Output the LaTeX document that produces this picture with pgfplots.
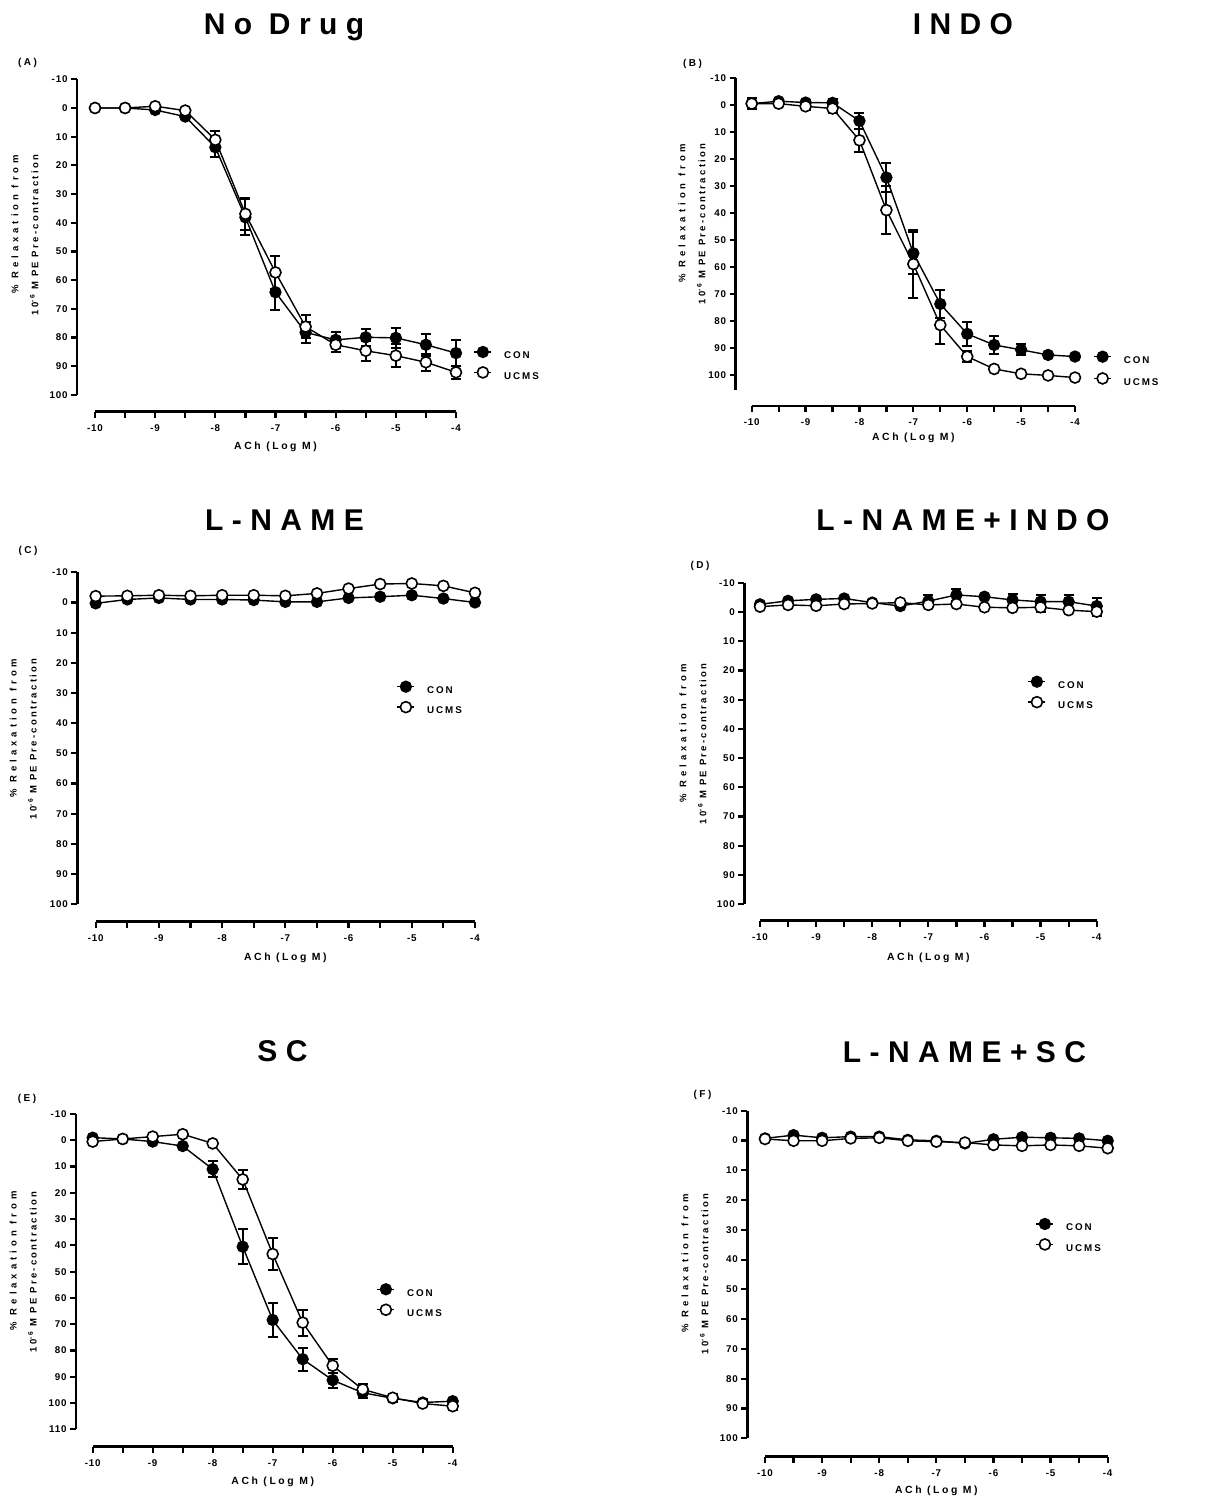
\documentclass[border=0pt]{standalone}
\usepackage{fontspec}
\usepackage{pgfplots}
\pgfplotsset{compat=1.18}
\setmainfont{Liberation Sans}
\newfontfamily\ttlfont{Liberation Sans}[LetterSpace=28]
\newfontfamily\labfont{Liberation Sans}[LetterSpace=25]
\newfontfamily\ylA{Liberation Sans}[LetterSpace=42]
\newfontfamily\ylB{Liberation Sans}[LetterSpace=24]
\newfontfamily\tkfont{Liberation Sans}[LetterSpace=8]
\newfontfamily\lgfont{Liberation Sans}[LetterSpace=20]

\pgfplotsset{
 panel/.style={
  scale only axis, xmin=-10, xmax=-4, y dir=reverse,
  separate axis lines, axis x line*=bottom, axis y line*=left,
  axis line style={line width=2.5pt, black},
  xtick={-10,-9,...,-4}, minor xtick={-9.5,-8.5,-7.5,-6.5,-5.5,-4.5},
  tick align=outside, major tick length=6pt, minor tick length=6pt,
  tick style={line width=2.2pt, black},
  clip=false,
  /pgf/number format/assume math mode=true,
  ticklabel style={font=\tkfont\bfseries\fontsize{9.8}{11}\selectfont},
  xticklabel style={yshift=-3.2pt},
  xlabel={ACh (Log M)},
  ylabel={{\ylA \% Relaxation from}\\{\ylB 10\textsuperscript{-6} M PE Pre-contraction}},
  every axis x label/.style={anchor=center, font=\labfont\bfseries\fontsize{10.4}{12}\selectfont},
  every axis y label/.style={rotate=90, anchor=center, align=right, font=\bfseries\fontsize{9.5}{20}\selectfont},
  legend style={draw=none, fill=none, inner sep=0pt, row sep=8.2pt, column sep=12pt, anchor=north west,
    nodes={inner sep=0pt, text height=6.7pt, text depth=0pt, font=\lgfont\bfseries\fontsize{9.8}{11}\selectfont}},
  legend cell align=left,
  legend image code/.code={\draw[##1, mark repeat=2, mark phase=2, yshift=3.4pt] plot coordinates {(0pt,0pt) (8.5pt,0pt) (17pt,0pt)};},
 },
 con/.style={black, line width=1.4pt, mark=*, mark size=5.5pt, mark options={solid, fill=black, line width=1.3pt}},
 ucms/.style={black, line width=1.4pt, mark=*, mark size=5.5pt, mark options={solid, fill=white, line width=1.6pt}},
 eb/.style={error bars/.cd, y dir=both, y explicit, error bar style={line width=2pt, black}, error mark options={rotate=90, line width=2pt, mark size=5pt, black}},
}

\begin{document}
\begin{tikzpicture}
\path[use as bounding box] (0pt,0pt) rectangle (1229pt,1498pt);

% Titles
\begin{scope}[every node/.style={font=\ttlfont\bfseries\fontsize{30}{36}\selectfont, anchor=base}]
\node at (284pt,1463.7pt) {No Drug};
\node at (963pt,1463.7pt) {INDO};
\node at (284.5pt,967.5pt) {L-NAME};
\node at (963pt,967.5pt) {L-NAME+INDO};
\node at (282.5pt,436pt) {SC};
\node at (964.5pt,435pt) {L-NAME+SC};
\end{scope}
\begin{scope}[every node/.style={font=\labfont\bfseries\fontsize{10}{12}\selectfont, anchor=center}]
\node at (27.5pt,1435pt) {(A)};
\node at (692.5pt,1434.5pt) {(B)};
\node at (28pt,947pt) {(C)};
\node at (700pt,932pt) {(D)};
\node at (27pt,399pt) {(E)};
\node at (702.5pt,403.5pt) {(F)};
\end{scope}

% (A)
\begin{axis}[panel, at={(95pt,1103pt)}, anchor=south west, width=361pt, height=315.7pt,
  ymin=-10, ymax=100, ytick={-10,0,...,100},
  axis x line shift=16.7pt, axis y line shift=18pt,
  xlabel style={at={(axis description cs:0.5,-0.1647)}},
  ylabel style={at={(axis description cs:-0.1939,0.506)}},
  legend style={at={(axis description cs:1.0485,0.1543)}}]
\addplot[con, eb] table[x=x, y=y, y error=e] {
x y e
-10 0 0
-9.5 0 0
-9 0.7 0
-8.5 3 0
-8 13.7 3.5
-7.5 38.1 6.3
-7 64.2 6.1
-6.5 78.2 3.7
-6 80.8 2.9
-5.5 79.9 2.9
-5 80.1 3.6
-4.5 82.5 3.8
-4 85.4 4.4
};
\addlegendentry{CON}
\addplot[ucms, eb] table[x=x, y=y, y error=e] {
x y e
-10 0 0
-9.5 0 0
-9 -0.6 0
-8.5 0.9 0
-8 11.1 3.2
-7.5 36.9 5.6
-7 57.3 5.6
-6.5 76.2 4
-6 82.5 2.6
-5.5 84.6 3.5
-5 86.3 3.9
-4.5 88.6 2.9
-4 92.1 2.3
};
\addlegendentry{UCMS}
\end{axis}

% (B)
\begin{axis}[panel, at={(751.7pt,1108pt)}, anchor=south west, width=323.3pt, height=311.7pt,
  ymin=-10, ymax=105.6, ytick={-10,0,...,100},
  axis x line shift=16pt, axis y line shift=16pt,
  xlabel style={at={(axis description cs:0.5,-0.154)}},
  ylabel style={at={(axis description cs:-0.1847,0.5326)}},
  legend style={at={(axis description cs:1.0563,0.1251)}, row sep=9.5pt}]
\addplot[con, eb] table[x=x, y=y, y error=e] {
x y e
-10 -0.6 2.1
-9.5 -1.5 0
-9 -1 0.8
-8.5 -0.9 1.5
-8 5.8 2.9
-7.5 26.8 5.3
-7 54.9 7.8
-6.5 73.7 5.3
-6 84.8 4.5
-5.5 88.9 3.2
-5 90.7 2
-4.5 92.6 0
-4 93.2 0
};
\addlegendentry{CON}
\addplot[ucms, eb] table[x=x, y=y, y error=e] {
x y e
-10 -0.6 0
-9.5 -0.6 0
-9 0.4 1.2
-8.5 1.2 1.8
-8 13 4.3
-7.5 38.9 9
-7 58.9 12.5
-6.5 81.5 7
-6 93.2 2
-5.5 97.8 0
-5 99.6 0
-4.5 100.2 0
-4 101 0
};
\addlegendentry{UCMS}
\end{axis}

% (C)
\begin{axis}[panel, at={(95.7pt,593.7pt)}, anchor=south west, width=379.3pt, height=332pt,
  ymin=-10, ymax=100, ytick={-10,0,...,100},
  axis x line shift=17.4pt, axis y line shift=18.4pt,
  xlabel style={at={(axis description cs:0.5,-0.1617)}},
  ylabel style={at={(axis description cs:-0.1909,0.4979)}},
  legend style={at={(axis description cs:0.793,0.6726)}}]
\addplot[con] table[x=x, y=y] {
x y
-10 0.3
-9.5 -1
-9 -1.5
-8.5 -1
-8 -1
-7.5 -0.8
-7 -0.2
-6.5 -0.2
-6 -1.5
-5.5 -1.9
-5 -2.4
-4.5 -1.3
-4 0
};
\addlegendentry{CON}
\addplot[ucms] table[x=x, y=y] {
x y
-10 -2.1
-9.5 -2.2
-9 -2.4
-8.5 -2.2
-8 -2.4
-7.5 -2.4
-7 -2.2
-6.5 -3
-6 -4.6
-5.5 -6.1
-5 -6.3
-4.5 -5.5
-4 -3.2
};
\addlegendentry{UCMS}
\end{axis}

% (D)
\begin{axis}[panel, at={(760pt,593.7pt)}, anchor=south west, width=336.7pt, height=321.6pt,
  ymin=-10, ymax=100, ytick={-10,0,...,100},
  axis x line shift=16.4pt, axis y line shift=15.7pt,
  xlabel style={at={(axis description cs:0.5,-0.167)}},
  ylabel style={at={(axis description cs:-0.199,0.4984)}},
  legend style={at={(axis description cs:0.7945,0.7099)}}]
\addplot[con, eb] table[x=x, y=y, y error=e] {
x y e
-10 -2.6 0
-9.5 -3.8 0
-9 -4.3 0
-8.5 -4.6 0
-8 -3.2 0
-7.5 -2 0
-7 -3.7 2
-6.5 -5.8 2.1
-6 -5.2 0
-5.5 -4.1 2.1
-5 -3.5 2.3
-4.5 -3.5 2.3
-4 -2 2.7
};
\addlegendentry{CON}
\addplot[ucms, eb] table[x=x, y=y, y error=e] {
x y e
-10 -1.8 0
-9.5 -2.4 0
-9 -2.1 0
-8.5 -2.7 0
-8 -2.9 0
-7.5 -3.2 0
-7 -2.4 0
-6.5 -2.7 0
-6 -1.6 0
-5.5 -1.4 0
-5 -1.6 1.5
-4.5 -0.6 0
-4 -0.1 1.5
};
\addlegendentry{UCMS}
\end{axis}

% (E)
\begin{axis}[panel, at={(92.7pt,68.7pt)}, anchor=south west, width=360pt, height=315.3pt,
  ymin=-10, ymax=110, ytick={-10,0,...,110},
  axis x line shift=17.4pt, axis y line shift=16.7pt,
  xlabel style={at={(axis description cs:0.5,-0.1662)}},
  ylabel style={at={(axis description cs:-0.1928,0.4998)}},
  legend style={at={(axis description cs:0.7883,0.4621)}}]
\addplot[con, eb] table[x=x, y=y, y error=e] {
x y e
-10 -1 0
-9.5 -0.5 0
-9 0.5 0
-8.5 2.2 0
-8 11 3
-7.5 40.5 6.7
-7 68.4 6.5
-6.5 83.3 4.4
-6 91.3 2.8
-5.5 96.1 2
-5 98.2 1.5
-4.5 99.8 1.5
-4 99.3 0
};
\addlegendentry{CON}
\addplot[ucms, eb] table[x=x, y=y, y error=e] {
x y e
-10 0.5 0
-9.5 -0.5 0
-9 -1.4 0
-8.5 -2.3 0
-8 1.2 0
-7.5 14.9 3.7
-7 43.3 6
-6.5 69.4 4.9
-6 85.8 2.7
-5.5 94.8 2
-5 98 1
-4.5 100.2 1
-4 101.2 1.5
};
\addlegendentry{UCMS}
\end{axis}

% (F)
\begin{axis}[panel, at={(765pt,59.7pt)}, anchor=south west, width=342.7pt, height=327.6pt,
  ymin=-10, ymax=100, ytick={-10,0,...,100},
  axis x line shift=18.4pt, axis y line shift=17.7pt,
  xlabel style={at={(axis description cs:0.5,-0.16)}},
  ylabel style={at={(axis description cs:-0.2043,0.5015)}},
  legend style={at={(axis description cs:0.7893,0.6716)}}]
\addplot[con] table[x=x, y=y] {
x y
-10 -0.7
-9.5 -1.8
-9 -0.9
-8.5 -1.3
-8 -1.3
-7.5 -0.2
-7 0.1
-6.5 1
-6 -0.4
-5.5 -1.1
-5 -0.9
-4.5 -0.7
-4 0.1
};
\addlegendentry{CON}
\addplot[ucms] table[x=x, y=y] {
x y
-10 -0.5
-9.5 0.1
-9 0.1
-8.5 -0.7
-8 -0.9
-7.5 0.1
-7 0.4
-6.5 0.7
-6 1.5
-5.5 1.8
-5 1.5
-4.5 1.8
-4 2.6
};
\addlegendentry{UCMS}
\end{axis}
\end{tikzpicture}
\end{document}
